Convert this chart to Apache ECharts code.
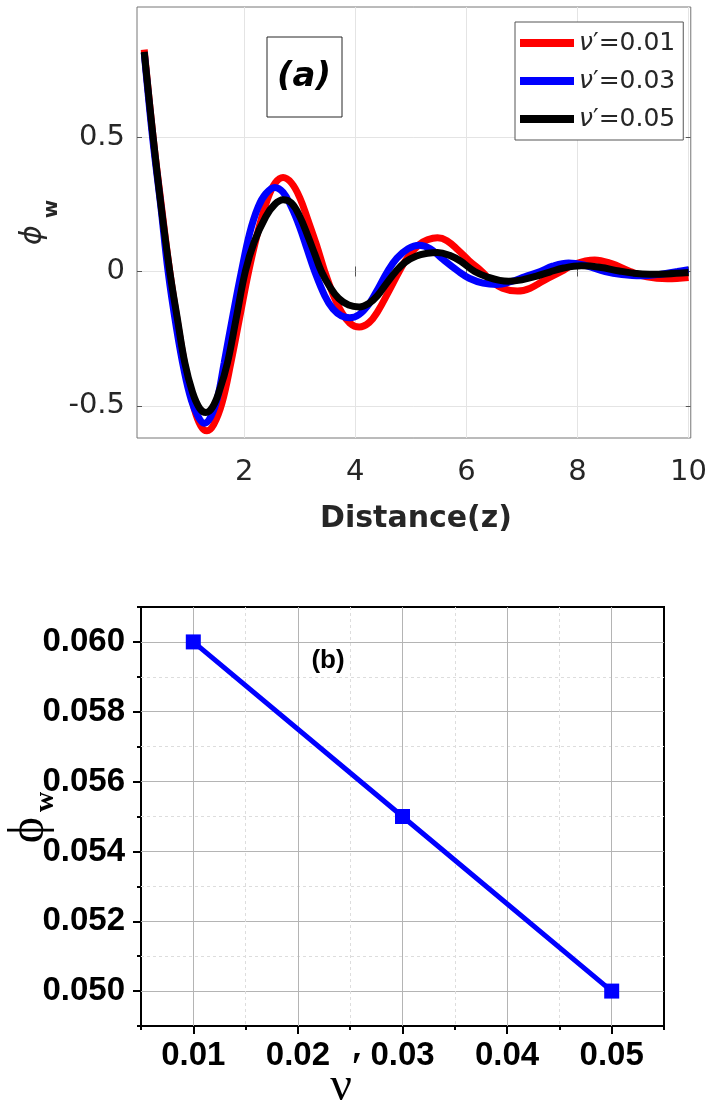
<!DOCTYPE html>
<html>
<head>
    <meta charset="UTF-8" />
    <script type="text/javascript" src="https://cdn.jsdelivr.net/npm/echarts@6/dist/echarts.min.js"></script>
</head>
<body style="margin: 0; background: #fff">
    <div id="container" style="width: 710px; height: 1103px"></div>
    <script>
        // panel (a): phi_w against distance z (extrema included)
        var zNu001 = [0.2, 0.36, 0.5, 0.66, 0.8, 0.95, 1.1, 1.22, 1.33, 1.45, 1.6, 1.76, 1.92, 2.08, 2.25, 2.42, 2.56, 2.7,
            2.85, 3.0, 3.15, 3.3, 3.45, 3.6, 3.75, 3.9, 4.07, 4.25, 4.4, 4.6, 4.79, 4.95, 5.15, 5.3, 5.48, 5.65, 5.85,
            6.05, 6.28, 6.45, 6.65, 6.92, 7.15, 7.4, 7.71, 7.95, 8.31, 8.6, 8.95, 9.25, 9.62, 10.0];
        var phiNu001 = [0.826, 0.5, 0.26, 0.0, -0.19, -0.37, -0.51, -0.575, -0.593, -0.57, -0.49, -0.34, -0.17, 0.0, 0.15, 0.27, 0.33, 0.35,
            0.33, 0.275, 0.19, 0.1, 0.0, -0.085, -0.15, -0.192, -0.207, -0.19, -0.15, -0.075, 0.0, 0.055, 0.1, 0.118, 0.126, 0.115, 0.08,
            0.04, 0.0, -0.035, -0.062, -0.073, -0.062, -0.033, 0.0, 0.028, 0.043, 0.03, 0.0, -0.02, -0.027, -0.022];

        var zNu003 = [0.2, 0.35, 0.5, 0.63, 0.78, 0.92, 1.05, 1.17, 1.28, 1.4, 1.52, 1.64, 1.8, 1.95, 2.1, 2.25, 2.39, 2.55,
            2.7, 2.85, 3.0, 3.13, 3.27, 3.45, 3.6, 3.75, 3.9, 4.07, 4.25, 4.42, 4.58, 4.75, 4.95, 5.15, 5.35, 5.55,
            5.86, 6.05, 6.3, 6.55, 6.8, 7.05, 7.33, 7.55, 7.84, 8.15, 8.5, 8.8, 9.14, 9.5, 9.8, 10.0];
        var phiNu003 = [0.815, 0.5, 0.24, 0.0, -0.21, -0.37, -0.48, -0.54, -0.565, -0.54, -0.47, -0.339, -0.16, 0.0, 0.144, 0.24, 0.29, 0.313,
            0.295, 0.24, 0.165, 0.085, 0.0, -0.09, -0.14, -0.165, -0.172, -0.16, -0.12, -0.06, 0.0, 0.05, 0.085, 0.098, 0.085, 0.05,
            0.0, -0.025, -0.043, -0.048, -0.038, -0.02, 0.0, 0.02, 0.032, 0.022, 0.0, -0.011, -0.016, -0.01, 0.0, 0.007];

        var zNu005 = [0.2, 0.36, 0.5, 0.66, 0.8, 0.93, 1.07, 1.2, 1.31, 1.43, 1.56, 1.7, 1.86, 2.02, 2.18, 2.39, 2.55, 2.7,
            2.85, 3.0, 3.15, 3.27, 3.39, 3.55, 3.7, 3.88, 4.07, 4.25, 4.4, 4.56, 4.73, 4.9, 5.1, 5.3, 5.48, 5.7, 5.9,
            6.15, 6.4, 6.6, 6.76, 7.0, 7.25, 7.5, 7.75, 8.07, 8.4, 8.75, 9.0, 9.3, 9.6, 10.0];
        var phiNu005 = [0.818, 0.5, 0.25, 0.0, -0.18, -0.339, -0.45, -0.51, -0.525, -0.505, -0.44, -0.339, -0.17, 0.0, 0.11, 0.205, 0.25, 0.267,
            0.255, 0.205, 0.13, 0.065, 0.0, -0.06, -0.1, -0.125, -0.132, -0.118, -0.09, -0.045, 0.0, 0.035, 0.058, 0.068, 0.071, 0.06, 0.038,
            0.0, -0.022, -0.033, -0.036, -0.031, -0.018, -0.002, 0.013, 0.021, 0.016, 0.002, -0.006, -0.01, -0.009, -0.004];

        var seriesNames = ['ν′=0.01', 'ν′=0.03', 'ν′=0.05'];
        var zTicks = [2, 4, 6, 8, 10];
        var phiTicks = [-0.5, 0, 0.5];

        // panel (b): phi_w against nu'
        var nu = [0.01, 0.03, 0.05];
        var phiW = [0.060, 0.055, 0.050];
        var nuTicks = [0.01, 0.02, 0.03, 0.04, 0.05];
        var phiWTicks = [0.050, 0.052, 0.054, 0.056, 0.058, 0.060];

        function pairs(xs, ys) {
            return xs.map(function (x, i) { return [x, ys[i]]; });
        }

        var topFont = 'DejaVu Sans';
        var botFont = 'Liberation Sans';
        var chart = echarts.init(document.getElementById('container'));

        var lineColors = ['#ff0000', '#0000ff', '#000000'];
        var curves = [[zNu001, phiNu001], [zNu003, phiNu003], [zNu005, phiNu005]].map(function (c, i) {
            return {
                name: seriesNames[i], type: 'line', xAxisIndex: 0, yAxisIndex: 0,
                data: pairs(c[0], c[1]), smooth: 0.4, symbol: 'none',
                lineStyle: { color: lineColors[i], width: 7 }, itemStyle: { color: lineColors[i] }
            };
        });

        var option = {
            animation: false,
            grid: [
                { left: 137, right: 17, top: 7, bottom: 665, show: true, borderColor: '#767676', borderWidth: 1 },
                { left: 141, right: 46, top: 607, bottom: 77, show: true, borderColor: '#000', borderWidth: 2 },
                { left: 141, right: 46, top: 607, bottom: 77 }
            ],
            xAxis: [
                {
                    gridIndex: 0, type: 'value', min: 0.07, max: 10.04,
                    axisLine: { show: false },
                    axisTick: { inside: true, length: 5, customValues: zTicks, lineStyle: { color: '#555' } },
                    axisLabel: { customValues: zTicks, margin: 20, fontFamily: topFont, fontSize: 29, color: '#262626' },
                    splitLine: { show: true, lineStyle: { color: '#e4e4e4' } }
                },
                {
                    gridIndex: 0, type: 'value', position: 'top', min: 0.07, max: 10.04,
                    axisLine: { show: false },
                    axisTick: { inside: true, length: 5, customValues: zTicks, lineStyle: { color: '#555' } },
                    axisLabel: { show: false }, splitLine: { show: false }
                },
                {
                    gridIndex: 1, type: 'value', min: 0.005, max: 0.055,
                    axisLine: { show: false },
                    axisTick: { length: 8, customValues: nuTicks, lineStyle: { color: '#000', width: 2 } },
                    axisLabel: {
                        customValues: nuTicks, margin: 13, fontFamily: botFont, fontWeight: 'bold', fontSize: 33, color: '#000',
                        formatter: function (v) { return v.toFixed(2); }
                    },
                    splitLine: { show: true, lineStyle: { color: '#b4b4b4', width: 1 } }
                },
                {
                    gridIndex: 2, type: 'value', min: 0.005, max: 0.055, interval: 0.01,
                    axisLine: { show: false },
                    axisTick: { length: 4, lineStyle: { color: '#000', width: 2 } },
                    axisLabel: { show: false },
                    splitLine: { show: true, showMinLine: false, showMaxLine: false, lineStyle: { color: '#dddddd', type: [3, 3], width: 1 } }
                }
            ],
            yAxis: [
                {
                    gridIndex: 0, type: 'value', min: -0.62, max: 0.985,
                    axisLine: { show: false },
                    axisTick: { inside: true, length: 5, customValues: phiTicks, lineStyle: { color: '#555' } },
                    axisLabel: {
                        customValues: phiTicks, margin: 12, fontFamily: topFont, fontSize: 29, color: '#262626',
                        formatter: function (v) { return String(v); }
                    },
                    splitLine: { show: true, lineStyle: { color: '#e4e4e4' } }
                },
                {
                    gridIndex: 0, type: 'value', position: 'right', min: -0.62, max: 0.985,
                    axisLine: { show: false },
                    axisTick: { inside: true, length: 5, customValues: phiTicks, lineStyle: { color: '#555' } },
                    axisLabel: { show: false }, splitLine: { show: false }
                },
                {
                    gridIndex: 1, type: 'value', min: 0.049, max: 0.061,
                    axisLine: { show: false },
                    axisTick: { length: 8, customValues: phiWTicks, lineStyle: { color: '#000', width: 2 } },
                    axisLabel: {
                        customValues: phiWTicks, margin: 16, fontFamily: botFont, fontWeight: 'bold', fontSize: 33, color: '#000',
                        formatter: function (v) { return v.toFixed(3); }
                    },
                    splitLine: { show: true, lineStyle: { color: '#b4b4b4', width: 1 } }
                },
                {
                    gridIndex: 2, type: 'value', min: 0.049, max: 0.061, interval: 0.002,
                    axisLine: { show: false },
                    axisTick: { length: 4, lineStyle: { color: '#000', width: 2 } },
                    axisLabel: { show: false },
                    splitLine: { show: true, showMinLine: false, showMaxLine: false, lineStyle: { color: '#dddddd', type: [3, 3], width: 1 } }
                }
            ],
            legend: {
                data: seriesNames, orient: 'vertical', left: 515, top: 22,
                padding: [6, 8, 6, 5], itemGap: 8, itemWidth: 54, itemHeight: 8, icon: 'rect',
                selectedMode: false, backgroundColor: '#fff', borderColor: '#555', borderWidth: 1,
                textStyle: {
                    fontFamily: topFont, fontSize: 25, color: '#262626', lineHeight: 30,
                    rich: { nu: { fontFamily: topFont, fontSize: 25, fontStyle: 'italic', color: '#262626' } }
                },
                formatter: function (n) { return '{nu|ν}' + n.slice(1); }
            },
            series: curves.concat([{
                type: 'line', xAxisIndex: 2, yAxisIndex: 2, data: pairs(nu, phiW),
                symbol: 'rect', symbolSize: 15,
                lineStyle: { color: '#0000ff', width: 5 }, itemStyle: { color: '#0000ff' }
            }]),
            graphic: [
                { type: 'rect', shape: { x: 267, y: 37, width: 75, height: 80 }, style: { fill: '#fff', stroke: '#262626', lineWidth: 1 }, z: 10 },
                { type: 'text', x: 304, y: 77, z: 11, style: { text: '(a)', fontFamily: topFont, fontSize: 34, fontWeight: 'bold', fontStyle: 'italic', fill: '#000', align: 'center', verticalAlign: 'middle' } },
                { type: 'text', x: 416, y: 519, style: { text: 'Distance(z)', fontFamily: topFont, fontSize: 30, fontWeight: 'bold', fill: '#262626', align: 'center', verticalAlign: 'middle' } },
                { type: 'text', x: 33, y: 235, rotation: Math.PI / 2, style: { text: 'ϕ', fontFamily: topFont, fontSize: 30, fontStyle: 'italic', fill: '#262626', align: 'center', verticalAlign: 'middle' } },
                { type: 'text', x: 52, y: 209, rotation: Math.PI / 2, style: { text: 'w', fontFamily: topFont, fontSize: 20, fontWeight: 'bold', fill: '#262626', align: 'center', verticalAlign: 'middle' } },
                { type: 'text', x: 328, y: 661, style: { text: '(b)', fontFamily: botFont, fontSize: 26, fontWeight: 'bold', fill: '#000', align: 'center', verticalAlign: 'middle' } },
                { type: 'text', x: 30, y: 830, rotation: Math.PI / 2, style: { text: 'ϕ', fontFamily: 'Liberation Serif', fontSize: 50, fill: '#000', align: 'center', verticalAlign: 'middle' } },
                { type: 'text', x: 46, y: 802, rotation: Math.PI / 2, style: { text: 'w', fontFamily: 'Liberation Serif', fontSize: 28, fontWeight: 'bold', fill: '#000', align: 'center', verticalAlign: 'middle' } },
                { type: 'text', x: 341, y: 1087, style: { text: 'ν', fontFamily: 'Liberation Serif', fontSize: 48, fill: '#000', align: 'center', verticalAlign: 'middle' } },
                { type: 'text', x: 357, y: 1070, style: { text: '′', fontFamily: 'Liberation Serif', fontSize: 42, fontWeight: 'bold', fill: '#000', align: 'center', verticalAlign: 'middle' } }
            ]
        };
        chart.setOption(option);
    </script>
</body>
</html>
